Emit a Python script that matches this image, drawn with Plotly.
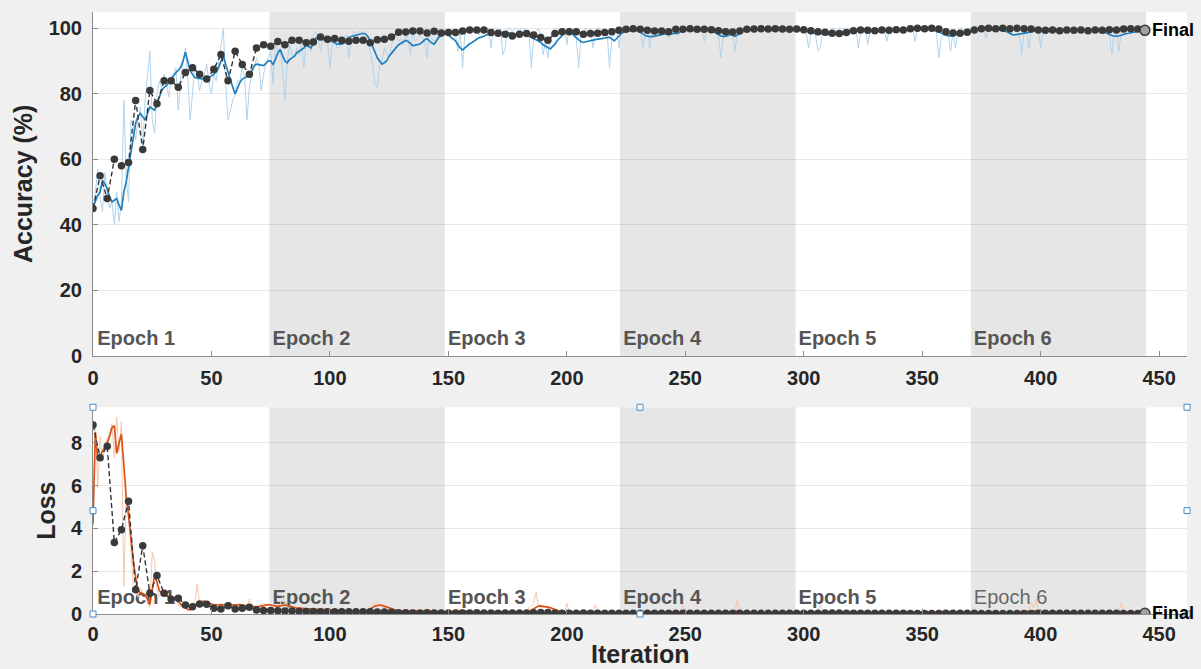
import plotly.graph_objects as go

# ---------------- data ----------------
iters_per_epoch = 74
val_every = 3
epoch_names = ["Epoch 1", "Epoch 2", "Epoch 3", "Epoch 4", "Epoch 5", "Epoch 6"]
x_ticks = [0, 50, 100, 150, 200, 250, 300, 350, 400, 450]
acc_ticks = [0, 20, 40, 60, 80, 100]
loss_ticks = [0, 2, 4, 6, 8]

acc_raw = [
    45, 50, 57, 48, 44, 56, 50, 45, 47, 40,
    50, 41, 47, 78, 55, 47, 72, 70, 66, 72,
    76, 64, 78, 85, 93, 72, 68, 80, 84, 82,
    86, 83, 79, 85, 86, 88, 75, 85, 89, 94,
    85, 72, 80, 89, 86, 81, 84, 86, 89, 83,
    80, 86, 84, 89, 95, 100, 83, 72, 75, 78,
    80, 84, 84, 88, 85, 72, 82, 86, 88, 91,
    89, 81, 86, 89, 91, 93, 83, 96, 93, 94,
    88, 78, 90, 95, 92, 91, 94, 92, 95, 88,
    96, 97, 93, 98, 99, 97, 93, 97, 98, 96,
    88, 95, 97, 94, 94, 96, 97, 98, 91, 97,
    99, 98, 99, 99, 98, 97, 96, 93, 89, 83,
    82, 89, 90, 94, 92, 91, 95, 97, 98, 96,
    97, 95, 98, 97, 92, 99, 96, 97, 98, 97,
    96, 91, 99, 97, 96, 96, 99, 98, 99, 99,
    100, 99, 100, 98, 93, 100, 88, 99, 100, 100,
    99, 100, 100, 98, 100, 99, 100, 100, 94, 100,
    100, 99, 100, 92, 94, 100, 100, 99, 100, 100,
    99, 100, 100, 98, 99, 88, 97, 99, 100, 98,
    92, 96, 91, 97, 99, 100, 100, 99, 100, 100,
    95, 100, 100, 99, 97, 88, 98, 99, 100, 99,
    100, 94, 99, 100, 100, 98, 100, 99, 88, 97,
    98, 100, 94, 100, 100, 100, 99, 100, 100, 100,
    99, 100, 94, 98, 100, 94, 99, 100, 100, 99,
    100, 100, 99, 97, 100, 100, 99, 100, 100, 100,
    100, 99, 100, 100, 100, 99, 100, 100, 96, 100,
    100, 99, 100, 100, 98, 91, 97, 99, 100, 99,
    98, 93, 99, 100, 100, 100, 99, 100, 100, 100,
    100, 100, 99, 100, 100, 100, 100, 99, 100, 100,
    100, 99, 100, 100, 100, 100, 99, 100, 100, 99,
    100, 99, 94, 98, 99, 98, 93, 94, 99, 100,
    98, 99, 100, 100, 99, 100, 100, 100, 99, 100,
    100, 99, 100, 94, 99, 100, 100, 95, 99, 100,
    100, 99, 100, 100, 100, 96, 99, 100, 100, 100,
    99, 100, 100, 100, 100, 99, 100, 96, 100, 100,
    100, 100, 99, 100, 100, 100, 99, 91, 97, 98,
    99, 98, 93, 99, 94, 99, 100, 100, 99, 100,
    100, 100, 100, 99, 100, 100, 100, 97, 100, 100,
    100, 99, 100, 100, 100, 99, 100, 98, 99, 100,
    99, 98, 92, 99, 100, 94, 99, 100, 100, 100,
    94, 99, 100, 100, 100, 99, 100, 100, 100, 99,
    100, 100, 100, 99, 100, 100, 100, 99, 100, 100,
    100, 99, 100, 100, 100, 99, 100, 99, 100, 98,
    92, 99, 98, 93, 99, 100, 99, 100, 100, 100,
    99, 100, 100, 100, 99,
]

acc_smooth = [
    45.4, 47.5, 49, 50, 53.6, 52.5, 51, 48.5, 47, 47.5,
    48, 46, 44.4, 50, 53, 57.6, 62, 67, 71, 73,
    74, 73, 72, 74, 76, 75.5, 75, 77, 79, 81,
    82, 82.5, 83.5, 84.5, 85.6, 86.5, 87.2, 88.1, 90, 92.7,
    90, 87.1, 86, 85, 84.8, 84.6, 84.6, 84.7, 84.9, 85,
    85.5, 86, 86.6, 88, 90, 91.7, 89, 86.6, 84, 82,
    80, 82, 83.5, 84.5, 85, 85.3, 85.6, 87, 88.5, 89.1,
    89, 88.8, 88.6, 89.3, 90.1, 90, 89, 90.5, 92.5, 93.5,
    91.5, 90, 89.5, 90.5, 91, 91.5, 92.5, 93, 93.5, 94,
    95, 94.5, 94, 95.5, 97, 97.3, 97, 96.5, 96.3, 96.3,
    96.3, 96, 95.5, 95.2, 95.2, 95.2, 95.5, 96.5, 97.3, 97.5,
    97.7, 97.8, 98, 98.3, 98.5, 98.3, 97.5, 96.3, 94.5, 92.5,
    91, 90, 89.1, 89.5, 90.1, 91.5, 92.5, 93.2, 94.2, 95,
    95.5, 96, 96.3, 96, 95.2, 94.7, 94.9, 95, 95.2, 95.8,
    96.5, 96.8, 96.2, 95.5, 95.2, 96.2, 97.3, 97.8, 98.2, 98.3,
    98, 97.3, 96.8, 96.2, 95, 94, 93.4, 94, 94.8, 95.3,
    95.7, 96.2, 96.8, 97.2, 97.3, 97.7, 98, 98.3, 98.5, 98.6,
    98.7, 98.6, 98.5, 98.3, 98.2, 98.4, 98.6, 98.5, 98.3, 98.2,
    98.4, 98.6, 98.4, 98, 97.5, 97, 96.8, 96.5, 96.2, 95.7,
    95, 94.5, 94, 93.7, 94.5, 95.2, 96.3, 97.2, 97.8, 98.5,
    99, 99.1, 98.7, 97.8, 97, 96.5, 96, 95.7, 95.9, 96.1,
    96.3, 96.4, 96.6, 96.7, 96.8, 96.8, 97, 97.2, 97.3, 96.8,
    96.2, 96.9, 97.8, 98.4, 98.8, 99.1, 99.3, 99.3, 99.4, 99.3,
    99.3, 98.9, 98.4, 97.8, 97.6, 97.5, 97.5, 97.7, 97.9, 98,
    98.1, 98.2, 98.3, 98.4, 98.5, 98.5, 98.5, 98.5, 99, 99.8,
    99.6, 99.3, 99.3, 99.3, 99.4, 99.3, 99.3, 99.4, 99.5, 99.5,
    99.4, 99.3, 99, 98.6, 98.1, 97.7, 97.5, 97.6, 97.8, 98.2,
    97.9, 97.6, 98, 98.6, 99.1, 99.4, 99.5, 99.6, 99.6, 99.5,
    99.7, 99.7, 99.6, 99.5, 99.6, 99.7, 99.7, 99.6, 99.4, 99.5,
    99.6, 99.7, 99.6, 99.5, 99.4, 99.5, 99.6, 99.6, 99.5, 99.4,
    99.4, 99.2, 99, 98.7, 98.4, 98.3, 98.2, 98.3, 98.5, 98.4,
    98.2, 98, 98.1, 98.3, 98.5, 98.7, 98.8, 99, 99.2, 99.3,
    99.4, 99.4, 99.3, 99.2, 99.3, 99.4, 99.5, 99.4, 99.3, 99.2,
    99.1, 99.2, 99.3, 99.4, 99.4, 99.3, 99.3, 99.4, 99.5, 99.5,
    99.4, 99.3, 99.4, 99.5, 99.6, 99.7, 99.8, 99.8, 99.7, 99.6,
    99.7, 99.8, 99.8, 99.7, 99.6, 99.4, 99.2, 98.9, 98.6, 98.2,
    97.9, 97.7, 97.7, 97.8, 98, 98.2, 98.4, 98.5, 98.7, 98.9,
    99.1, 99.3, 99.4, 99.6, 99.7, 99.8, 99.8, 99.7, 99.7, 99.6,
    99.5, 99.6, 99.7, 99.6, 99.4, 99.2, 98.9, 98.5, 98.1, 98,
    98.1, 98.3, 98.5, 98.4, 98.6, 98.8, 99, 99.2, 99.3, 99.4,
    99.5, 99.4, 99.3, 99.3, 99.4, 99.5, 99.5, 99.4, 99.3, 99.2,
    99.3, 99.4, 99.4, 99.3, 99.2, 99.3, 99.4, 99.5, 99.5, 99.4,
    99.3, 99.3, 99.4, 99.3, 99.2, 99.1, 99, 98.8, 98.5, 98.1,
    97.8, 97.6, 97.6, 97.7, 97.9, 98.2, 98.4, 98.5, 98.7, 98.9,
    99, 99.1, 99.2, 99.3, 99.3,
]

acc_val = [
    45, 55, 48, 60, 58, 59, 78, 63, 81, 77,
    84, 84, 82, 86.5, 88, 86, 84.5, 87.5, 92, 84,
    93, 89, 86, 94, 95, 94.5, 96, 95, 96.4, 96.4,
    95.6, 95.8, 97.4, 96.7, 96.9, 96.4, 96.1, 96.4, 96.4, 95.6,
    96.5, 96.7, 97.4, 98.8, 98.9, 99.2, 99.2, 98.6, 99.1, 98.6,
    98.7, 98.7, 99.2, 99.5, 99.5, 99.5, 98.7, 98.5, 98.2, 97.7,
    98.2, 98.4, 98.0, 97.2, 96.4, 98.4, 99.0, 99.0, 99.0, 98.2,
    98.4, 98.5, 98.7, 99.0, 99.4, 99.7, 99.9, 99.7, 99.4, 99.2,
    99.2, 99.0, 99.7, 99.7, 99.9, 99.7, 99.7, 99.6, 99.3, 99.0,
    98.9, 99.2, 99.7, 99.8, 99.9, 99.8, 99.9, 99.8, 99.7, 99.8,
    99.6, 99.3, 99.0, 98.8, 98.5, 98.4, 98.7, 99.3, 99.5, 99.4,
    99.3, 99.5, 99.4, 99.6, 99.5, 99.9, 100, 99.9, 100, 99.8,
    99.0, 98.6, 98.5, 98.8, 99.5, 99.9, 100, 99.9, 100, 99.9,
    100, 99.9, 99.8, 99.5, 99.4, 99.5, 99.3, 99.5, 99.4, 99.5,
    99.3, 99.5, 99.4, 99.6, 99.5, 99.8, 99.9, 99.8, 99.4,
]

loss_raw = [
    4.1, 9.0, 5.9, 8.3, 7.1, 7.9, 8.2, 8.4, 8.9, 7.3,
    9.2, 7.6, 9.0, 1.3, 5.5, 5.2, 3.0, 1.2, 1.1, 0.8,
    1.2, 1.0, 0.9, 0.5, 0.3, 2.9, 2.5, 1.2, 0.8, 1.0,
    0.9, 0.8, 0.75, 0.8, 0.7, 0.8, 0.4, 0.35, 0.3, 0.25,
    0.15, 0.2, 0.45, 0.6, 1.4, 0.5, 0.6, 0.6, 0.45, 0.45,
    0.4, 0.45, 0.45, 0.4, 0.5, 0.4, 0.35, 0.5, 0.6, 0.4,
    0.35, 0.45, 0.5, 0.4, 0.3, 0.3, 0.7, 0.3, 0.3, 0.35,
    0.4, 0.45, 0.5, 0.45, 0.4,
    0.45, 0.35, 0.35, 0.4, 0.45, 0.8, 0.4, 0.35, 0.3, 0.25,
    0.3, 0.25, 0.3, 0.3, 0.25, 0.2, 0.25, 0.2, 0.2, 0.2,
    0.25, 0.2, 0.2, 0.15, 0.2, 0.15, 0.2, 0.2, 0.15, 0.15,
    0.15, 0.1, 0.15, 0.2, 0.1, 0.15, 0.1, 0.12, 0.1, 0.12,
    0.2, 0.25, 0.35, 0.45, 0.5, 0.6, 0.4, 0.35, 0.3, 0.2,
    0.15, 0.15, 0.12, 0.1, 0.12, 0.1, 0.1, 0.15, 0.2, 0.15,
    0.1, 0.1, 0.12, 0.1, 0.15, 0.2, 0.12, 0.1, 0.08, 0.1,
    0.08, 0.08, 0.1, 0.1, 0.12, 0.15, 0.1, 0.15, 0.2, 0.25,
    0.2, 0.15, 0.1, 0.08, 0.1, 0.08, 0.1, 0.06, 0.08, 0.1,
    0.08, 0.12, 0.1, 0.08, 0.1, 0.06, 0.08, 0.1, 0.12, 0.08,
    0.06, 0.08, 0.06, 0.05, 0.08, 0.1, 0.06, 0.05, 0.1, 0.3,
    0.4, 0.5, 1.0, 0.4, 0.35, 0.3, 0.35, 0.3, 0.2, 0.15,
    0.1, 0.08, 0.06, 0.05, 0.08, 0.5, 0.08, 0.1, 0.08, 0.06,
    0.1, 0.06, 0.08, 0.1, 0.12, 0.15, 0.12, 0.45, 0.08, 0.06,
    0.05, 0.06, 0.08, 0.1, 0.05, 0.06, 0.05, 0.06, 0.04, 0.05,
    0.06, 0.08, 0.05, 0.06, 0.04, 0.05, 0.1, 0.12, 0.08, 0.06,
    0.05, 0.06, 0.04, 0.08, 0.1, 0.06, 0.05, 0.04, 0.06, 0.05,
    0.04, 0.1, 0.12, 0.15, 0.4, 0.08, 0.06, 0.05, 0.04, 0.06,
    0.04, 0.05, 0.06, 0.08, 0.05, 0.04, 0.06, 0.08, 0.1, 0.15,
    0.12, 0.08, 0.1, 0.08, 0.12, 0.15, 0.2, 0.65, 0.1, 0.06,
    0.05, 0.04, 0.06, 0.05, 0.04, 0.05, 0.04, 0.03, 0.05, 0.04,
    0.06, 0.05, 0.04, 0.03, 0.05, 0.04, 0.05, 0.06, 0.04, 0.05,
    0.04, 0.05, 0.06, 0.08, 0.1, 0.12, 0.1, 0.15, 0.1, 0.12,
    0.1, 0.15, 0.45, 0.08, 0.06, 0.05, 0.06, 0.04, 0.05, 0.04,
    0.05, 0.04, 0.03, 0.05, 0.04, 0.06, 0.08, 0.06, 0.1, 0.05,
    0.06, 0.08, 0.1, 0.05, 0.04, 0.03, 0.04, 0.05, 0.04, 0.06,
    0.08, 0.05, 0.04, 0.03, 0.05, 0.04, 0.03, 0.05, 0.04, 0.05,
    0.06, 0.08, 0.1, 0.04, 0.03, 0.04, 0.05, 0.04, 0.03, 0.05,
    0.08, 0.12, 0.2, 0.15, 0.1, 0.08, 0.12, 0.15, 0.1, 0.12,
    0.08, 0.06, 0.05, 0.04, 0.05, 0.04, 0.03, 0.05, 0.04, 0.05,
    0.06, 0.08, 0.04, 0.03, 0.05, 0.04, 0.03, 0.04, 0.05, 0.04,
    0.05, 0.04, 0.08, 0.1, 0.12, 0.1, 0.15, 0.2, 0.12, 0.15,
    0.18, 0.55, 0.3, 0.66, 0.15, 0.2, 0.12, 0.1, 0.06, 0.05,
    0.04, 0.05, 0.04, 0.03, 0.05, 0.04, 0.03, 0.05, 0.04, 0.03,
    0.04, 0.05, 0.04, 0.03, 0.05, 0.04, 0.03, 0.04, 0.05, 0.04,
    0.05, 0.04, 0.06, 0.08, 0.1, 0.15, 0.12, 0.1, 0.15, 0.5,
    0.12, 0.1, 0.08, 0.06, 0.05, 0.04, 0.05, 0.04, 0.03, 0.04,
]

loss_smooth = [
    4.2, 8.5, 7.2, 7.4, 7.6, 7.8, 8.0, 8.3, 8.7, 8.8,
    7.5, 8.0, 8.4, 7.0, 5.5, 4.6, 3.5, 2.5, 1.7, 1.1,
    1.0, 0.95, 0.9, 0.7, 0.45, 1.1, 1.8, 1.5, 1.1, 0.95,
    0.9, 0.85, 0.8, 0.78, 0.75, 0.75, 0.6, 0.45, 0.36, 0.3,
    0.22, 0.2, 0.3, 0.45, 0.5, 0.55, 0.58, 0.6, 0.55, 0.5,
    0.46, 0.44, 0.44, 0.44, 0.45, 0.43, 0.42, 0.44, 0.45, 0.44,
    0.42, 0.43, 0.44, 0.43, 0.4, 0.36, 0.35, 0.34, 0.33, 0.33,
    0.34, 0.37, 0.4, 0.43, 0.44,
    0.42, 0.4, 0.38, 0.36, 0.38, 0.4, 0.42, 0.4, 0.36, 0.32,
    0.3, 0.28, 0.27, 0.27, 0.28, 0.27, 0.25, 0.23, 0.21, 0.2,
    0.2, 0.21, 0.22, 0.21, 0.2, 0.19, 0.18, 0.18, 0.19, 0.18,
    0.17, 0.16, 0.15, 0.15, 0.16, 0.15, 0.14, 0.14, 0.13, 0.13,
    0.14, 0.17, 0.22, 0.3, 0.37, 0.41, 0.42, 0.4, 0.36, 0.31,
    0.26, 0.22, 0.19, 0.17, 0.16, 0.15, 0.14, 0.13, 0.14, 0.16,
    0.15, 0.14, 0.13, 0.13, 0.12, 0.13, 0.15, 0.14, 0.13, 0.12,
    0.12, 0.11, 0.1, 0.1, 0.1,
    0.1, 0.1, 0.11, 0.12, 0.14, 0.16, 0.17, 0.15, 0.13, 0.12,
    0.11, 0.1, 0.1, 0.09, 0.09, 0.1, 0.1, 0.09, 0.1, 0.11,
    0.1, 0.09, 0.09, 0.1, 0.11, 0.1, 0.09, 0.08, 0.08, 0.09,
    0.09, 0.08, 0.08, 0.09, 0.12, 0.18,
    0.26, 0.33, 0.37, 0.38, 0.36, 0.34, 0.33, 0.3, 0.25, 0.2,
    0.16, 0.13, 0.11, 0.1,
    0.09, 0.09, 0.1, 0.1, 0.09, 0.09, 0.08, 0.08, 0.09, 0.1,
    0.11, 0.12, 0.12, 0.11, 0.1, 0.09, 0.09, 0.08, 0.08, 0.09,
    0.09, 0.08, 0.08, 0.07, 0.07, 0.07, 0.08, 0.08, 0.07, 0.07,
    0.07, 0.08, 0.09, 0.09, 0.08, 0.08, 0.07, 0.07, 0.07, 0.07,
    0.08, 0.08, 0.07, 0.07, 0.07, 0.06, 0.07, 0.08, 0.09, 0.1,
    0.1, 0.09, 0.08, 0.07, 0.07, 0.06, 0.06, 0.06, 0.07, 0.07,
    0.06, 0.06, 0.07, 0.08, 0.09, 0.1, 0.1, 0.1, 0.09, 0.1,
    0.11, 0.13, 0.14, 0.13, 0.11, 0.09, 0.08, 0.07, 0.07, 0.06,
    0.06, 0.06, 0.06, 0.05, 0.05, 0.05, 0.06, 0.06, 0.05, 0.05,
    0.05, 0.05, 0.05, 0.06, 0.06, 0.05, 0.05, 0.05, 0.05, 0.06,
    0.07, 0.08, 0.09, 0.09, 0.1, 0.1, 0.11, 0.12, 0.11, 0.09,
    0.08, 0.08, 0.07, 0.07, 0.06, 0.06, 0.06, 0.05, 0.05, 0.05,
    0.05, 0.06, 0.06, 0.07, 0.07, 0.06, 0.06, 0.07, 0.07, 0.06,
    0.06, 0.05, 0.05, 0.05, 0.05, 0.06, 0.06, 0.05, 0.05, 0.05,
    0.05, 0.05, 0.05, 0.05, 0.05, 0.05, 0.06, 0.06, 0.05, 0.05,
    0.05, 0.05, 0.05, 0.05, 0.06, 0.07, 0.08, 0.1, 0.11, 0.1,
    0.1, 0.1, 0.11, 0.1, 0.1, 0.09, 0.08, 0.07, 0.06, 0.06,
    0.05, 0.05, 0.05, 0.05, 0.05, 0.05, 0.06, 0.06, 0.05, 0.05,
    0.05, 0.05, 0.05, 0.05, 0.05, 0.05, 0.05, 0.06, 0.07, 0.08,
    0.09, 0.1, 0.12, 0.12, 0.13, 0.14, 0.15, 0.15, 0.14, 0.13,
    0.14, 0.13, 0.11, 0.09, 0.08, 0.07, 0.06, 0.06, 0.05, 0.05,
    0.05, 0.05, 0.05, 0.05, 0.05, 0.05, 0.05, 0.05, 0.05, 0.05,
    0.05, 0.05, 0.05, 0.05, 0.05, 0.05, 0.05, 0.05, 0.06, 0.07,
    0.09, 0.1, 0.11, 0.12, 0.13, 0.12, 0.1, 0.09, 0.08, 0.07,
    0.06, 0.06, 0.05, 0.05, 0.05,
]

loss_val = [
    8.83, 7.3, 7.84, 3.34, 3.94, 5.27, 1.13, 3.19, 0.97, 1.8,
    0.97, 0.69, 0.73, 0.42, 0.34, 0.47, 0.45, 0.27, 0.23, 0.38,
    0.23, 0.27, 0.31, 0.19, 0.16, 0.16,
    0.15, 0.14, 0.14, 0.13, 0.12, 0.12, 0.11, 0.1, 0.1, 0.1,
    0.1, 0.1, 0.11, 0.1, 0.09, 0.09, 0.08, 0.06, 0.06, 0.05,
    0.05, 0.06, 0.05, 0.05, 0.05,
    0.05, 0.05, 0.05, 0.06, 0.05, 0.05, 0.04, 0.05, 0.05, 0.05,
    0.05, 0.06, 0.07, 0.07, 0.05, 0.04, 0.04, 0.04, 0.05, 0.04,
    0.04, 0.04, 0.04, 0.04, 0.03, 0.03, 0.03, 0.04, 0.03, 0.03,
    0.03, 0.03, 0.03, 0.03, 0.03, 0.03, 0.03, 0.03, 0.04, 0.04,
    0.03, 0.03, 0.03, 0.03, 0.03, 0.03, 0.03, 0.03, 0.03, 0.03,
    0.04, 0.04, 0.05, 0.05, 0.05, 0.04, 0.03, 0.03, 0.03, 0.03,
    0.03, 0.03, 0.03, 0.03, 0.02, 0.02, 0.02, 0.02, 0.02, 0.03,
    0.04, 0.04, 0.04, 0.03, 0.02, 0.02, 0.02, 0.02, 0.02, 0.02,
    0.02, 0.02, 0.03, 0.03, 0.03, 0.03, 0.03, 0.03, 0.03, 0.03,
    0.03, 0.03, 0.03, 0.03, 0.02, 0.02, 0.02, 0.03,
]

# ---------------- derived x values ----------------
it_acc_raw = list(range(len(acc_raw)))
it_acc_smooth = list(range(len(acc_smooth)))
it_acc_val = [k * val_every for k in range(len(acc_val))]
it_loss_raw = list(range(len(loss_raw)))
it_loss_smooth = list(range(len(loss_smooth)))
it_loss_val = [k * val_every for k in range(len(loss_val))]
n_epochs = len(epoch_names)
last_iter = iters_per_epoch * n_epochs
x_max = last_iter * 1.04
acc_max = 105
loss_max = max(loss_raw) * 1.05

FONT = "Liberation Sans, Arial, Helvetica, sans-serif"
AX = "#262626"
ACC_C, ACC_RAW_C = "#2080bd", "#b0d3ec"
LOSS_C, LOSS_RAW_C = "#d95319", "#f5c8ad"
VAL_C = "#333333"
BAND = "#e6e6e6"

fig = go.Figure()

# epoch labels as text traces (drawn below the curves)
for row, (xa, ya, ypos) in enumerate([("x", "y", acc_max * 0.046), ("x2", "y2", loss_max * 0.073)]):
    for e, name in enumerate(epoch_names):
        thin = (row == 1 and e == n_epochs - 1)
        fig.add_trace(go.Scatter(
            x=[e * iters_per_epoch + 1.8], y=[ypos], mode="text", text=[name],
            textposition="middle right",
            textfont=dict(family=FONT, size=20, color="#666666" if thin else "#555555",
                          weight="normal" if thin else "bold"),
            xaxis=xa, yaxis=ya, hoverinfo="skip", showlegend=False))

def add_series(xa, ya, xr, yr, xs, ys, xv, yv, raw_c, sm_c):
    fig.add_trace(go.Scatter(x=xr, y=yr, mode="lines", line=dict(color=raw_c, width=1),
                             xaxis=xa, yaxis=ya, showlegend=False))
    fig.add_trace(go.Scatter(x=xs, y=ys, mode="lines", line=dict(color=sm_c, width=1.7),
                             xaxis=xa, yaxis=ya, showlegend=False))
    fig.add_trace(go.Scatter(x=xv, y=yv, mode="lines+markers",
                             line=dict(color=VAL_C, width=1.4, dash="5px,3px"),
                             marker=dict(color="#3a3a3a", size=7.5),
                             xaxis=xa, yaxis=ya, showlegend=False))
    fig.add_trace(go.Scatter(x=[xv[-1]], y=[yv[-1]], mode="markers",
                             marker=dict(color="#a0a0a0", size=10, line=dict(color="#3a3a3a", width=1.5)),
                             xaxis=xa, yaxis=ya, showlegend=False))

add_series("x", "y", it_acc_raw, acc_raw, it_acc_smooth, acc_smooth, it_acc_val, acc_val, ACC_RAW_C, ACC_C)
add_series("x2", "y2", it_loss_raw, loss_raw, it_loss_smooth, loss_smooth, it_loss_val, loss_val, LOSS_RAW_C, LOSS_C)

shapes = []
for xa, ya in [("x", "y"), ("x2", "y2")]:
    for e in range(1, n_epochs, 2):
        shapes.append(dict(type="rect", xref=xa, yref=ya + " domain",
                           x0=e * iters_per_epoch + 0.5, x1=(e + 1) * iters_per_epoch + 0.5,
                           y0=0, y1=1, fillcolor=BAND, line=dict(width=0), layer="below"))
# selection handles around the loss axes
for hx in (0, 0.5, 1):
    for hy in (0, 0.5, 1):
        if hx == 0.5 and hy == 0.5:
            continue
        shapes.append(dict(type="rect", xref="x2 domain", yref="y2 domain",
                           xsizemode="pixel", ysizemode="pixel", xanchor=hx, yanchor=hy,
                           x0=-3, x1=3, y0=-3, y1=3, fillcolor="white",
                           line=dict(color="#4a8cc4", width=1), layer="above"))

final_font = dict(family=FONT, size=18, color="#000000", weight="bold")
annotations = [
    dict(x=it_acc_val[-1], y=acc_val[-1], xref="x", yref="y", text="Final", showarrow=False,
         xanchor="left", yanchor="middle", xshift=5, font=final_font),
    dict(x=it_loss_val[-1], y=loss_val[-1], xref="x2", yref="y2", text="Final", showarrow=False,
         xanchor="left", yanchor="middle", xshift=5, font=final_font),
    # x-axis title of the lower panel, pinned to the bottom of the figure
    dict(x=0.5, y=0, xref="paper", yref="paper", text="Iteration", showarrow=False,
         xanchor="center", yanchor="bottom", yshift=-56,
         font=dict(family=FONT, size=25, color=AX, weight="bold")),
]

axis_common = dict(showline=True, linecolor="#8c8c8c", linewidth=1, ticks="inside", ticklen=5,
                   tickcolor="#8c8c8c", zeroline=False, automargin=False,
                   tickfont=dict(family=FONT, size=20, color=AX, weight="bold"))

fig.update_layout(
    template="none",
    width=1201, height=669,
    margin=dict(l=93, r=14, t=12, b=55),
    paper_bgcolor="#f0f0f0", plot_bgcolor="white",
    showlegend=False,
    shapes=shapes, annotations=annotations,
    xaxis=dict(axis_common, domain=[0, 1], anchor="y", range=[0, x_max],
               tickvals=x_ticks, showgrid=False, ticklabelstandoff=4),
    yaxis=dict(axis_common, domain=[0.429, 1], anchor="x", range=[0, acc_max],
               tickvals=acc_ticks, showgrid=True, gridcolor="rgba(0,0,0,0.085)",
               ticklabelstandoff=6,
               title=dict(text="Accuracy (%)", standoff=8,
                          font=dict(family=FONT, size=25, color=AX, weight="bold"))),
    xaxis2=dict(axis_common, domain=[0, 1], anchor="y2", range=[0, x_max],
                tickvals=x_ticks, showgrid=False, ticklabelstandoff=2),
    yaxis2=dict(axis_common, domain=[0, 0.3434], anchor="x2", range=[0, loss_max],
                tickvals=loss_ticks, showgrid=True, gridcolor="rgba(0,0,0,0.085)",
                ticklabelstandoff=6,
                title=dict(text="Loss", standoff=8,
                           font=dict(family=FONT, size=25, color=AX, weight="bold"))),
)

fig.write_html(
    "out.html",
    config={"displayModeBar": False},
    post_script="document.documentElement.style.margin='0';document.body.style.margin='0';"
                "document.body.style.padding='0';document.body.style.background='#f0f0f0';"
                "document.body.style.overflow='hidden';",
)
